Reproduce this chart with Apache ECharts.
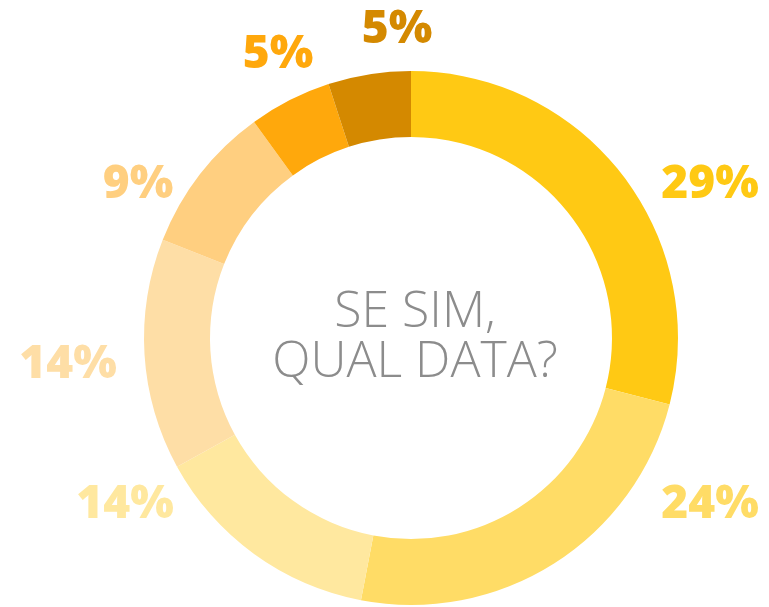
<!DOCTYPE html>
<html>
<head>
<meta charset="utf-8">
<script src="https://cdn.jsdelivr.net/npm/echarts@6/dist/echarts.min.js"></script>
<style>
html,body{margin:0;padding:0;background:#fff;}
#chart{width:769px;height:607px;}
</style>
</head>
<body>
<div id="chart"></div>
<script>
// Data (clockwise from 12 o'clock)
var sliceValues = [29, 24, 14, 14, 9, 5, 5];
var sliceColors = ['#FFC914', '#FFDC66', '#FFE89F', '#FEDEA6', '#FFCF80', '#FFA80C', '#D48900'];
var centerLines = ['SE SIM,', 'QUAL DATA?'];

// Label layout (label centres, px) - hand-placed like the reference
var labelCenters = [[710, 185], [710, 505], [125, 505], [68, 365], [138, 185], [278, 55], [397, 30]];

var chart = echarts.init(document.getElementById('chart'), null, {renderer: 'canvas'});

var data = sliceValues.map(function (v, i) {
  return {
    value: v,
    name: 'S' + (i + 1),
    itemStyle: {color: sliceColors[i]},
    label: {color: sliceColors[i]}
  };
});

chart.setOption({
  animation: false,
  graphic: [{
    type: 'text',
    x: 415,
    y: 338,
    style: {
      text: centerLines.join('\n'),
      fill: '#8C8C8C',
      font: '300 50px "Open Sans", sans-serif',
      lineHeight: 50,
      textAlign: 'center',
      textVerticalAlign: 'middle'
    }
  }],
  series: [{
    type: 'pie',
    center: [411, 338],
    radius: [201, 267],
    startAngle: 90,
    clockwise: true,
    avoidLabelOverlap: false,
    itemStyle: {borderWidth: 0},
    label: {
      show: true,
      position: 'outside',
      formatter: '{c}%',
      fontFamily: '"Open Sans", sans-serif',
      fontWeight: 800,
      fontSize: 46
    },
    labelLine: {show: false},
    labelLayout: function (params) {
      var p = labelCenters[params.dataIndex];
      return {x: p[0], y: p[1], align: 'center', verticalAlign: 'middle'};
    },
    emphasis: {disabled: true},
    data: data
  }]
});
</script>
</body>
</html>
